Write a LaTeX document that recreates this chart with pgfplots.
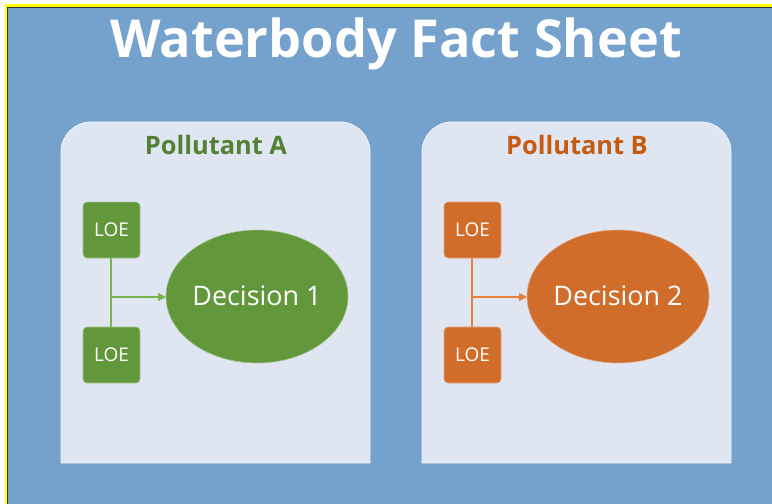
\documentclass[border=0pt]{standalone}
\usepackage{fontspec}
\setmainfont{Open Sans}
\usepackage{pgfplots}
\pgfplotsset{compat=1.18}
\usetikzlibrary{arrows.meta}
\definecolor{bgblue}{RGB}{117,161,205}
\definecolor{panel}{RGB}{223,230,242}
\definecolor{gfill}{RGB}{98,152,59}
\definecolor{gline}{RGB}{118,180,78}
\definecolor{gtext}{RGB}{84,130,53}
\definecolor{ofill}{RGB}{209,109,43}
\definecolor{oline}{RGB}{232,128,60}
\definecolor{otext}{RGB}{197,90,17}
\definecolor{yel}{RGB}{255,255,0}
\begin{document}
\begin{tikzpicture}
\begin{axis}[width=772bp,height=504bp,scale only axis,xmin=0,xmax=772,ymin=0,ymax=504,y dir=reverse,axis lines=none,clip=false]
\fill[white] (axis cs:0,0) rectangle (axis cs:772,504);
\fill[yel] (axis cs:4.5,4) rectangle (axis cs:772,504);
\fill[black!80] (axis cs:7,6.8) rectangle (axis cs:772,504);
\fill[bgblue] (axis cs:8,7.8) rectangle (axis cs:772,504);
\node[white,font=\fontsize{52.5}{60}\selectfont\bfseries] at (axis cs:396,44) {Waterbody Fact Sheet};
% panels
\filldraw[fill=panel,draw=white!60!panel,line width=0.8bp]
  (axis cs:61,463) [rounded corners=30bp] -- (axis cs:61,122) -- (axis cs:370,122) [sharp corners] -- (axis cs:370,463) -- cycle;
\filldraw[fill=panel,draw=white!60!panel,line width=0.8bp]
  (axis cs:422,463) [rounded corners=30bp] -- (axis cs:422,122) -- (axis cs:731,122) [sharp corners] -- (axis cs:731,463) -- cycle;
\node[gtext,font=\fontsize{25.5}{28}\selectfont\bfseries] at (axis cs:216,145) {Pollutant A};
\node[otext,font=\fontsize{25.5}{28}\selectfont\bfseries] at (axis cs:577,145) {Pollutant B};
% panel A
\draw[gline,line width=1.2bp] (axis cs:111,258) -- (axis cs:111,327);
\draw[gline,line width=1.2bp,-{Triangle[length=8bp,width=8bp]}] (axis cs:111,297) -- (axis cs:166,297);
\filldraw[fill=gfill,draw=white!40!gfill,line width=0.6bp,rounded corners=4bp] (axis cs:83,202) rectangle (axis cs:140,258);
\filldraw[fill=gfill,draw=white!40!gfill,line width=0.6bp,rounded corners=4bp] (axis cs:83,327) rectangle (axis cs:140,383);
\node[white,font=\fontsize{19}{22}\selectfont] at (axis cs:111.5,230) {LOE};
\node[white,font=\fontsize{19}{22}\selectfont] at (axis cs:111.5,355) {LOE};
\filldraw[fill=gfill,draw=white!40!gfill,line width=0.6bp] (axis cs:257,296.5) ellipse [x radius=91, y radius=66.5];
\node[white,font=\fontsize{27}{30}\selectfont] at (axis cs:257,296) {Decision 1};
% panel B
\draw[oline,line width=1.2bp] (axis cs:472,258) -- (axis cs:472,327);
\draw[oline,line width=1.2bp,-{Triangle[length=8bp,width=8bp]}] (axis cs:472,297) -- (axis cs:527,297);
\filldraw[fill=ofill,draw=white!40!ofill,line width=0.6bp,rounded corners=4bp] (axis cs:444,202) rectangle (axis cs:501,258);
\filldraw[fill=ofill,draw=white!40!ofill,line width=0.6bp,rounded corners=4bp] (axis cs:444,327) rectangle (axis cs:501,383);
\node[white,font=\fontsize{19}{22}\selectfont] at (axis cs:472.5,230) {LOE};
\node[white,font=\fontsize{19}{22}\selectfont] at (axis cs:472.5,355) {LOE};
\filldraw[fill=ofill,draw=white!40!ofill,line width=0.6bp] (axis cs:618,296.5) ellipse [x radius=91, y radius=66.5];
\node[white,font=\fontsize{27}{30}\selectfont] at (axis cs:618,296) {Decision 2};
\end{axis}
\end{tikzpicture}
\end{document}
